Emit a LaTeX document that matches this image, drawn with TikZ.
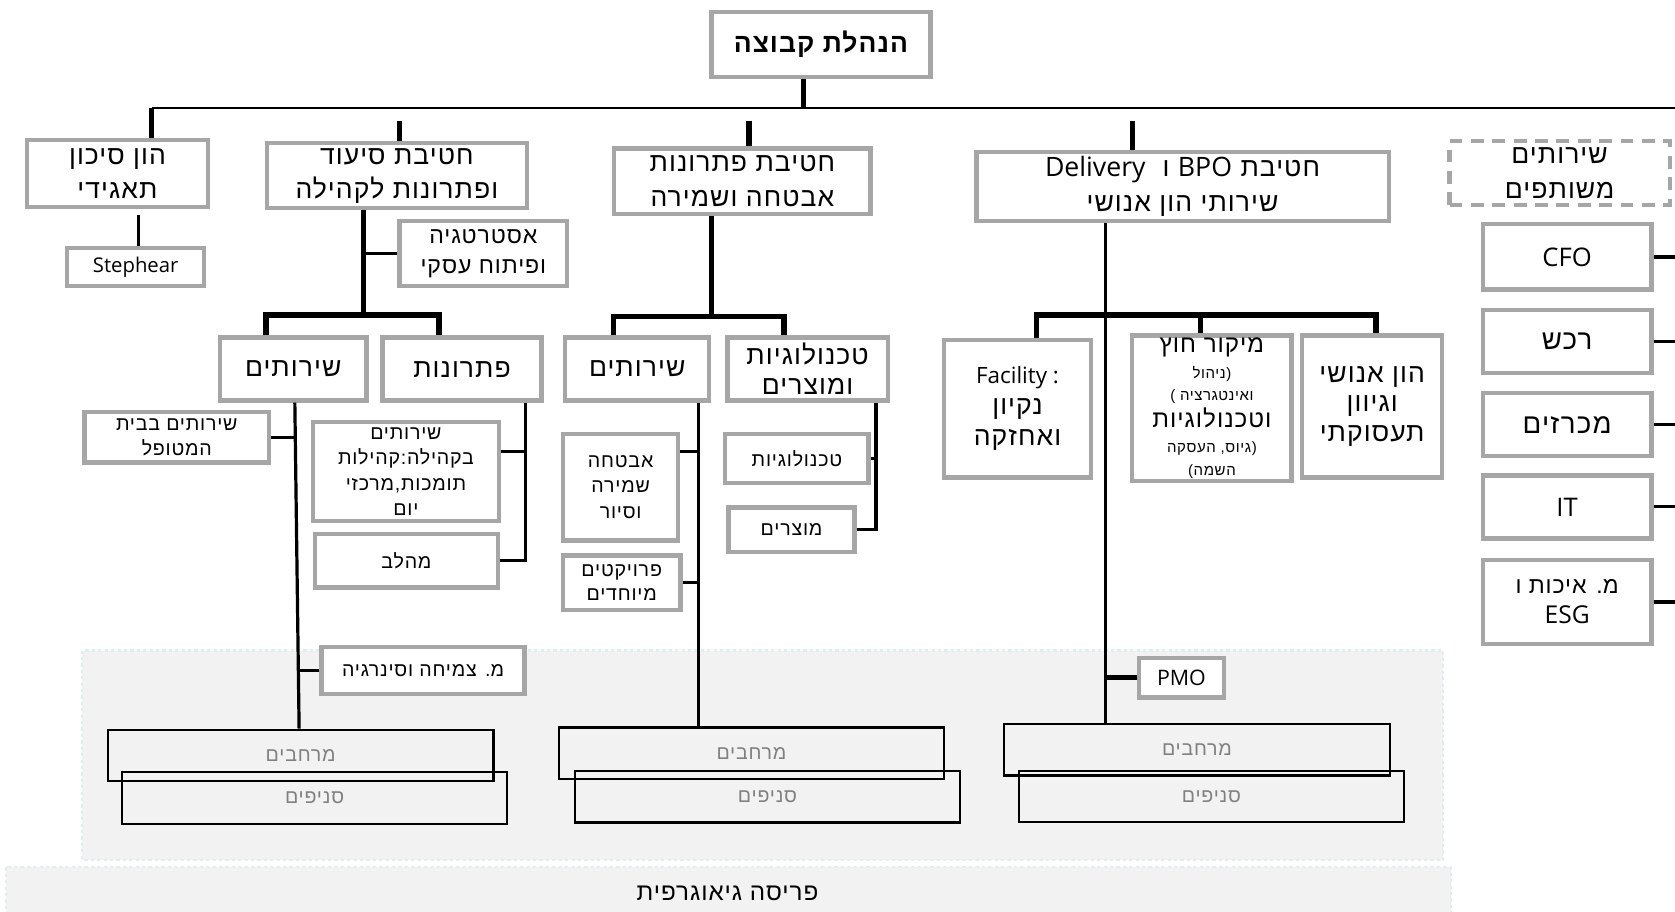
\documentclass[tikz,border=0pt]{standalone}
\usepackage{fontspec}
\setmainfont{Open Sans}
\newfontfamily\hebfont[Script=Hebrew, Scale=1.08, LetterSpace=4]{Liberation Sans}
\TeXXeTstate=1
\newcommand{\rtl}[1]{{\hebfont\beginR#1\endR}}
\newcommand{\ltrword}[1]{\beginL{\rmfamily #1}\endL}
\definecolor{boxgray}{HTML}{A6A6A6}
\definecolor{areagray}{HTML}{F2F2F2}
\definecolor{areaedge}{HTML}{E0EEF2}
\definecolor{textgray}{HTML}{808080}
\tikzset{
  unit/.style={draw=boxgray, line width=4pt, fill=white, align=center, inner sep=1pt},
  sharedunit/.style={unit, dash pattern=on 12pt off 8pt},
  region/.style={draw=black, line width=2pt, text=textgray, minimum width=361pt, minimum height=48pt,
    font=\fontsize{17}{20}\selectfont},
  bigtxt/.style={font=\fontsize{23}{32}\selectfont},
  midtxt/.style={font=\fontsize{23}{28}\selectfont},
  smalltxt/.style={font=\fontsize{17}{24}\selectfont},
  sidetxt/.style={font=\fontsize{24}{28}\selectfont},
  notetxt/.style={font=\fontsize{13}{16}\selectfont},
  bar/.style={line width=5pt},
  link/.style={line width=3pt},
  hair/.style={line width=2pt},
}
\begin{document}
\begin{tikzpicture}[x=1pt, y=-1pt]
    \useasboundingbox (0,0) rectangle (1568,853);
    % background areas
    \filldraw[fill=areagray, draw=areaedge, dashed, line width=2pt] (77,609) rectangle (1351,805);
    \filldraw[fill=areagray, draw=areaedge, dashed, line width=2pt] (6,812) rectangle (1358,860);
    \node[font=\fontsize{21}{26}\selectfont] (geo) at (681,836) {\rtl{פריסה גיאוגרפית}};
    % regions
    \node[region] (g1) at (281.5,707) {\rtl{מרחבים}};
    \node[region] (s1) at (294.5,747) {\rtl{סניפים}};
    \node[region] (g2) at (703.5,705) {\rtl{מרחבים}};
    \node[region] (s2) at (718.5,746) {\rtl{סניפים}};
    \node[region] (g3) at (1120.5,702) {\rtl{מרחבים}};
    \node[region] (s3) at (1134,745.5) {\rtl{סניפים}};
    % top and divisions
    \node[unit, bigtxt, minimum width=205pt, minimum height=61pt] (top) at (768.5,41.5) {\rtl{\bfseries הנהלת קבוצה}};
    \node[unit, bigtxt, minimum width=170pt, minimum height=63pt] (risk) at (110,162.5) {\rtl{הון סיכון}\\\rtl{תאגידי}};
    \node[unit, bigtxt, minimum width=243pt, minimum height=61pt] (nurs) at (371.5,164.5) {\rtl{חטיבת סיעוד}\\\rtl{ופתרונות לקהילה}};
    \node[unit, bigtxt, minimum width=240pt, minimum height=61pt] (sec) at (695,169.5) {\rtl{חטיבת פתרונות}\\\rtl{אבטחה ושמירה}};
    \node[unit, font=\fontsize{23}{33}\selectfont, minimum width=386pt, minimum height=65pt] (bpo) at (1107,174.5)
        {\rtl{חטיבת {\fontsize{25}{33}\selectfont\ltrword{BPO}} ו\ \ {\fontsize{25}{33}\selectfont\ltrword{Delivery}}}\\\rtl{שירותי הון אנושי}};
    \node[sharedunit, bigtxt, minimum width=206pt, minimum height=60pt] (shared) at (1460,162) {\rtl{שירותים}\\\rtl{משותפים}};
    % nursing
    \node[unit, font=\fontsize{19}{24}\selectfont, minimum width=128pt, minimum height=36pt] (steph) at (127,250) {Stephear};
    \node[unit, font=\fontsize{20}{28}\selectfont, minimum width=157pt, minimum height=61pt] (strat) at (452.5,237.5) {\rtl{אסטרטגיה}\\\rtl{ופיתוח עסקי}};
    \node[unit, midtxt, minimum width=137pt, minimum height=59pt] (nsrv) at (274.5,345.5) {\rtl{שירותים}};
    \node[unit, midtxt, minimum width=149pt, minimum height=59pt] (nsol) at (432.5,345.5) {\rtl{פתרונות}};
    \node[unit, font=\fontsize{17}{23}\selectfont, minimum width=173pt, minimum height=47pt] (home) at (165.5,409.5) {\rtl{שירותים בבית}\\\rtl{המטופל}};
    \node[unit, smalltxt, inner sep=0pt, minimum width=174pt, minimum height=93pt] (comm) at (380,441.5)
        {\rtl{שירותים}\\\rtl{בקהילה:קהילות}\\\rtl{תומכות,מרכזי}\\\rtl{יום}};
    \node[unit, smalltxt, minimum width=171pt, minimum height=50pt] (mehalev) at (380.5,525) {\rtl{מהלב}};
    \node[unit, smalltxt, minimum width=190pt, minimum height=44pt] (growth) at (396,628) {\rtl{מ\kern0pt. צמיחה וסינרגיה}};
    % security
    \node[unit, midtxt, minimum width=135pt, minimum height=59pt] (ssrv) at (596.5,345.5) {\rtl{שירותים}};
    \node[unit, midtxt, minimum width=150pt, minimum height=59pt] (stech) at (756,345.5) {\rtl{טכנולוגיות}\\\rtl{ומוצרים}};
    \node[unit, smalltxt, minimum width=108pt, minimum height=100pt] (guard) at (581,456) {\rtl{אבטחה}\\\rtl{שמירה}\\\rtl{וסיור}};
    \node[unit, font=\fontsize{17}{23}\selectfont, minimum width=110pt, minimum height=51pt] (proj) at (582,545.5) {\rtl{פרויקטים}\\\rtl{מיוחדים}};
    \node[unit, smalltxt, minimum width=134pt, minimum height=46pt] (tech) at (746,429) {\rtl{טכנולוגיות}};
    \node[unit, smalltxt, minimum width=118pt, minimum height=42pt] (prod) at (741,496) {\rtl{מוצרים}};
    % bpo
    \node[unit, font=\fontsize{23}{29}\selectfont, minimum width=137pt, minimum height=129pt] (fac) at (952.5,382.5)
        {{\fontsize{21}{29}\selectfont Facility :}\\\rtl{נקיון}\\\rtl{ואחזקה}};
    \node[unit, font=\fontsize{21}{24}\selectfont, inner sep=0pt, minimum width=149pt, minimum height=136pt] (outs) at (1134.5,382)
        {\rtl{מיקור חוץ}\\
         {\fontsize{13}{16}\selectfont\rtl{(ניהול}}\\[-3pt]
         {\fontsize{13}{16}\selectfont\rtl{ואינטגרציה )}}\\[1pt]
         \rtl{וטכנולוגיות}\\
         {\fontsize{13}{16}\selectfont\rtl{(גיוס, העסקה}}\\[-3pt]
         {\fontsize{13}{16}\selectfont\rtl{השמה)}}};
    \node[unit, midtxt, minimum width=131pt, minimum height=133pt] (hr) at (1284.5,380.5)
        {\rtl{הון אנושי}\\\rtl{וגיוון}\\\rtl{תעסוקתי}};
    \node[unit, font=\fontsize{20}{22}\selectfont, minimum width=80pt, minimum height=37pt] (pmo) at (1106,634.5) {PMO};
    % shared services
    \node[unit, sidetxt, minimum width=158pt, minimum height=61pt] (cfo) at (1467,240.5) {CFO};
    \node[unit, sidetxt, minimum width=158pt, minimum height=59pt] (rkh) at (1467,319.5) {\rtl{רכש}};
    \node[unit, sidetxt, minimum width=158pt, minimum height=59pt] (mkr) at (1467,397.5) {\rtl{מכרזים}};
    \node[unit, sidetxt, minimum width=158pt, minimum height=59pt] (it) at (1467,474.5) {IT};
    \node[unit, font=\fontsize{20}{28}\selectfont, minimum width=158pt, minimum height=79pt] (esg) at (1467,563.5)
        {\rtl{מ\kern0pt. איכות ו}\\{\fontsize{23}{28}\selectfont ESG}};
    % main bar
    \coordinate (barL) at (142,101);
    \coordinate (barR) at (1568,101);
    \coordinate (ts) at (752,101);
    \draw[hair] (barL) -- (barR);
    \draw[bar] (top.south -| ts) -- (ts);
    \coordinate (s2) at (374,113);
    \coordinate (s3) at (701,113);
    \coordinate (s4) at (1060,113);
    \draw[bar] (barL) -- (barL |- risk.north);
    \draw[bar] (s2) -- (s2 |- nurs.north);
    \draw[bar] (s3) -- (s3 |- sec.north);
    \draw[bar] (s4) -- (s4 |- bpo.north);
    \coordinate (s5) at (130,201);
    \draw[link] (s5) -- (s5 |- steph.north);
    % nursing division
    \coordinate (n0) at (340,295);
    \coordinate (n1) at (249,295);
    \coordinate (n2) at (411,295);
    \draw[bar] (n0 |- nurs.south) -- (n0);
    \draw[link] (n0 |- strat.west) -- (strat.west);
    \draw[bar] (n1 |- nsrv.north) -- (n1) -- (n2) -- (n2 |- nsol.north);
    \coordinate (n3) at (276,375);
    \coordinate (n4) at (280,683);
    \draw[link] (n3 |- nsrv.south) -- (n4 |- g1.north);
    \draw[link] (home.east) -- (home.east -| n3);
    \draw[link] (growth.west) -- (growth.west -| n4);
    \coordinate (n5) at (492,375);
    \coordinate (n6) at (492,423);
    \draw[link] (n5 |- nsol.south) |- (mehalev.east);
    \draw[link] (n6) -- (n6 -| comm.east);
    % security division
    \coordinate (p0) at (666,296);
    \coordinate (p1) at (574,296);
    \coordinate (p2) at (734,296);
    \draw[bar] (p0 |- sec.south) -- (p0);
    \draw[bar] (p1 |- ssrv.north) -- (p1) -- (p2) -- (p2 |- stech.north);
    \coordinate (p3) at (654,375);
    \coordinate (p4) at (654,423);
    \draw[link] (p3 |- ssrv.south) -- (p3 |- g2.north);
    \draw[link] (p4 -| guard.east) -- (p4);
    \draw[link] (proj.east) -- (proj.east -| p3);
    \coordinate (p5) at (820,375);
    \draw[link] (p5 |- stech.south) |- (prod.east);
    \draw[link] (tech.east) -- (tech.east -| p5);
    % bpo division
    \coordinate (d0) at (1035,295);
    \coordinate (d1) at (970,295);
    \coordinate (d2) at (1124,295);
    \coordinate (d3) at (1288,295);
    \draw[link] (d0 |- bpo.south) -- (d0 |- g3.north);
    \draw[bar] (d1 |- fac.north) -- (d1) -- (d3) -- (d3 |- hr.north);
    \draw[bar] (d2) -- (d2 |- outs.north);
    \draw[bar] (pmo.west) -- (pmo.west -| d0);
    % shared services links
    \coordinate (r0) at (1568,0);
    \foreach \b in {cfo,rkh,mkr,it,esg}
        \draw[link] (\b.east) -- (\b.east -| r0);
\end{tikzpicture}
\end{document}
